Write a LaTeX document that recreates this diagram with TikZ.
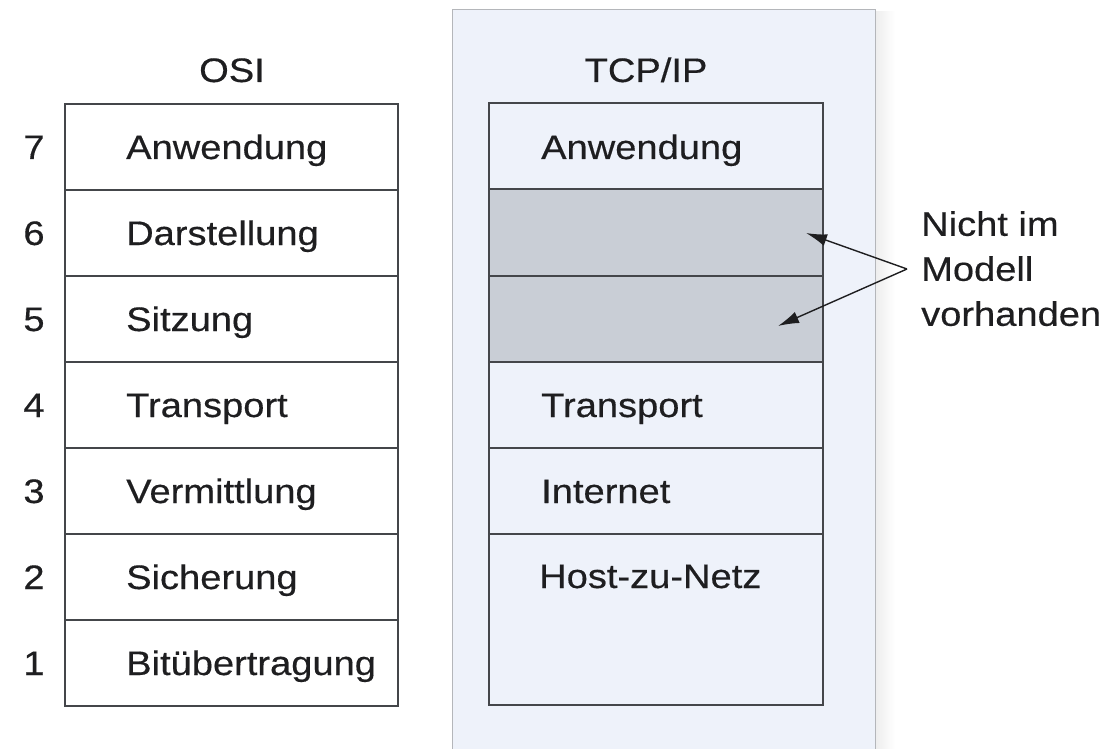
\documentclass[tikz,border=0pt]{standalone}
\usepackage{fontspec}
\setmainfont{Liberation Sans}[FakeStretch=1.12, FakeBold=0.4]
\usetikzlibrary{arrows.meta}
\definecolor{panelfill}{HTML}{EEF2FA}
\definecolor{panelline}{HTML}{B4B6BA}
\definecolor{boxline}{HTML}{44464A}
\definecolor{grayrow}{HTML}{C9CED6}
\definecolor{ink}{HTML}{1E1E20}
\tikzset{
  lbl/.style={anchor=base west, inner sep=0pt, font=\fontsize{34}{40}\selectfont, text=ink},
  num/.style={anchor=base, inner sep=0pt, font=\fontsize{34}{40}\selectfont, text=ink},
  ttl/.style={anchor=base, inner sep=0pt, font=\fontsize{34}{40}\selectfont, text=ink},
  osirow/.style={draw=boxline, line width=2pt, fill=white, minimum width=333pt, minimum height=86pt, inner sep=0pt},
  tcprow/.style={draw=boxline, line width=2pt, fill=panelfill, minimum width=334pt, inner sep=0pt},
  greyrow/.style={tcprow, fill=grayrow},
  pointer/.style={draw=ink, line width=1.4pt, -{Latex[length=21pt,width=12pt]}}
}
\begin{document}
\begin{tikzpicture}[x=1pt,y=-1pt]
\useasboundingbox (0,0) rectangle (1101,749);
% shadow and panel
\shade[left color=black!7, right color=white] (875,12) rectangle (895,749);
\draw[panelline, line width=1pt, fill=panelfill] (452,760) -- (452,10) -- (875,10) -- (875,760);
% titles
\node[ttl] (tosi) at (232,82) {OSI};
\node[ttl] (ttcp) at (646,82) {TCP/IP};
% OSI stack
\foreach \i/\t [count=\k] in {7/Anwendung,6/Darstellung,5/Sitzung,4/Transport,3/Vermittlung,2/Sicherung,1/Bitübertragung}{
  \pgfmathsetmacro{\yc}{147+86*(\k-1)}
  \node[osirow] (o\i) at (231.5,\yc) {};
  \node[lbl] (ol\i) at (126,\yc+12) {\t};
  \node[num] (n\i) at (34,\yc+12) {\i};
}
% TCP/IP stack
\node[tcprow, minimum height=86pt] (tapp) at (655.5,146.5) {};
\node[greyrow, minimum height=86pt] (tg6) at (655.5,232.5) {};
\node[greyrow, minimum height=86pt] (tg5) at (655.5,318.5) {};
\node[tcprow, minimum height=86pt] (ttr) at (655.5,404.5) {};
\node[tcprow, minimum height=86pt] (tin) at (655.5,490.5) {};
\node[tcprow, minimum height=171pt] (thn) at (655.5,619) {};
\node[lbl] (l1) at (541,159) {Anwendung};
\node[lbl] (l2) at (541,417) {Transport};
\node[lbl] (l3) at (541,503) {Internet};
\node[lbl] (l4) at (539,588) {Host-zu-Netz};
% annotation
\node[anchor=north west, inner sep=0pt, align=left, font=\fontsize{34}{45}\selectfont, text=ink] (note) at (921,211) {Nicht im\\Modell\\vorhanden};
\coordinate (m) at (907,269);
\coordinate (a6) at (806,233);
\coordinate (a5) at (778,326);
\draw[pointer] (m) -- (a6);
\draw[pointer] (m) -- (a5);
\end{tikzpicture}
\end{document}
